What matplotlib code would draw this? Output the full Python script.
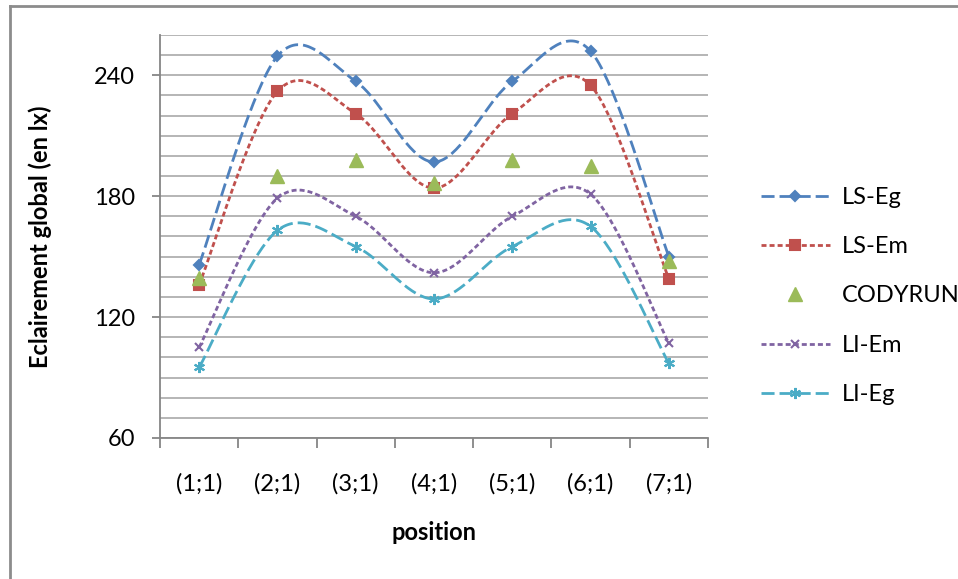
import numpy as np
import matplotlib.pyplot as plt
from matplotlib.lines import Line2D

# Data
positions = ['(1;1)', '(2;1)', '(3;1)', '(4;1)', '(5;1)', '(6;1)', '(7;1)']
ls_eg = [146, 249.5, 237, 197, 237, 252, 150]
ls_em = [136, 232, 221, 184, 221, 235, 139]
codyrun = [139.5, 190, 198, 186.5, 198, 195, 148]
li_em = [105, 179, 170, 142, 170, 181, 107]
li_eg = [95, 163, 155, 129, 155, 165, 97]


def smooth(x, y, n=40):
    """Catmull-Rom style smoothing, like the spreadsheet 'smoothed line'."""
    x = np.asarray(x, dtype=float)
    y = np.asarray(y, dtype=float)
    px = np.concatenate([[x[0]], x, [x[-1]]])
    py = np.concatenate([[y[0]], y, [y[-1]]])
    xs, ys = [], []
    t = np.linspace(0, 1, n)
    for i in range(1, len(px) - 2):
        p0 = np.array([px[i], py[i]])
        p3 = np.array([px[i + 1], py[i + 1]])
        c1 = p0 + (np.array([px[i + 1], py[i + 1]]) - np.array([px[i - 1], py[i - 1]])) / 6
        c2 = p3 - (np.array([px[i + 2], py[i + 2]]) - np.array([px[i], py[i]])) / 6
        b = ((1 - t) ** 3)[:, None] * p0 + (3 * (1 - t) ** 2 * t)[:, None] * c1 \
            + (3 * (1 - t) * t ** 2)[:, None] * c2 + (t ** 3)[:, None] * p3
        xs.append(b[:, 0])
        ys.append(b[:, 1])
    return np.concatenate(xs), np.concatenate(ys)


plt.rcParams["font.family"] = ["Lato", "DejaVu Sans"]

fig = plt.figure(figsize=(9.58, 5.79), dpi=100)
ax = fig.add_axes([160 / 958, 1 - 438 / 579, 548 / 958, 403 / 579])

x = np.arange(len(positions))

long_dash = (0, (4.7, 1.8))
short_dash = (0, (1.8, 1.1))
series = [
    ("LS-Eg", ls_eg, "#4F81BD", long_dash, "D", 5),
    ("LS-Em", ls_em, "#C0504D", short_dash, "s", 6.5),
    ("LI-Em", li_em, "#8064A2", short_dash, "x", 6),
    ("LI-Eg", li_eg, "#4BACC6", long_dash, (6, 2, 0), 8),
]

handles = {}
for name, vals, col, ls, mk, ms in series:
    sx, sy = smooth(x, vals)
    ax.plot(sx, sy, color=col, linestyle=ls, linewidth=2, zorder=3)
    ax.plot(x, vals, linestyle="None", marker=mk, markersize=ms, color=col,
            markeredgewidth=1.5, zorder=4)
    handles[name] = Line2D([], [], color=col, linestyle=ls, linewidth=2,
                           marker=mk, markersize=ms, markeredgewidth=1.5)

ax.plot(x, codyrun, linestyle="None", marker="^", markersize=10, color="#9BBB59", zorder=5)
handles["CODYRUN"] = Line2D([], [], linestyle="None", marker="^", markersize=10, color="#9BBB59")

ax.set_xlim(-0.5, 6.5)
ax.set_ylim(60, 260)
ax.set_xticks(x)
ax.set_xticklabels(positions, fontsize=17)
ax.set_xticks(np.arange(-0.5, 7, 1), minor=True)
ax.set_yticks([60, 120, 180, 240])
ax.set_yticks(np.arange(60, 261, 10), minor=True)
ax.tick_params(axis="x", which="major", length=0, pad=25)
ax.tick_params(axis="x", which="minor", length=7, width=1.3, color="#868686")
ax.tick_params(axis="y", which="major", length=6, width=1.3, color="#868686", labelsize=17, pad=12)
ax.tick_params(axis="y", which="minor", length=0)
ax.grid(True, axis="y", which="both", color="#B0B0B0", linewidth=1.3, zorder=0)
ax.set_axisbelow(True)

for s in ["top", "right"]:
    ax.spines[s].set_visible(False)
for s in ["left", "bottom"]:
    ax.spines[s].set_color("#868686")
    ax.spines[s].set_linewidth(1.3)

ax.set_ylabel("Eclairement global (en lx)", fontsize=17, fontweight="bold", labelpad=30)
ax.set_xlabel("position", fontsize=17, fontweight="bold", labelpad=19)

order = ["LS-Eg", "LS-Em", "CODYRUN", "LI-Em", "LI-Eg"]
fig.legend([handles[k] for k in order], order, loc="center left",
           bbox_to_anchor=(740 / 958, 1 - 296 / 579), frameon=False,
           fontsize=17, handlelength=2.9, labelspacing=1.2, handletextpad=0.5)

# chart border (top and left visible, the rest is cut off)
fig.add_artist(Line2D([9.5 / 958, 9.5 / 958], [0, 1 - 6 / 579], color="#8C8C8C", linewidth=2,
                      transform=fig.transFigure))
fig.add_artist(Line2D([9.5 / 958, 1], [1 - 6 / 579, 1 - 6 / 579], color="#8C8C8C", linewidth=2,
                      transform=fig.transFigure))

fig.savefig("out.png", dpi=100)
